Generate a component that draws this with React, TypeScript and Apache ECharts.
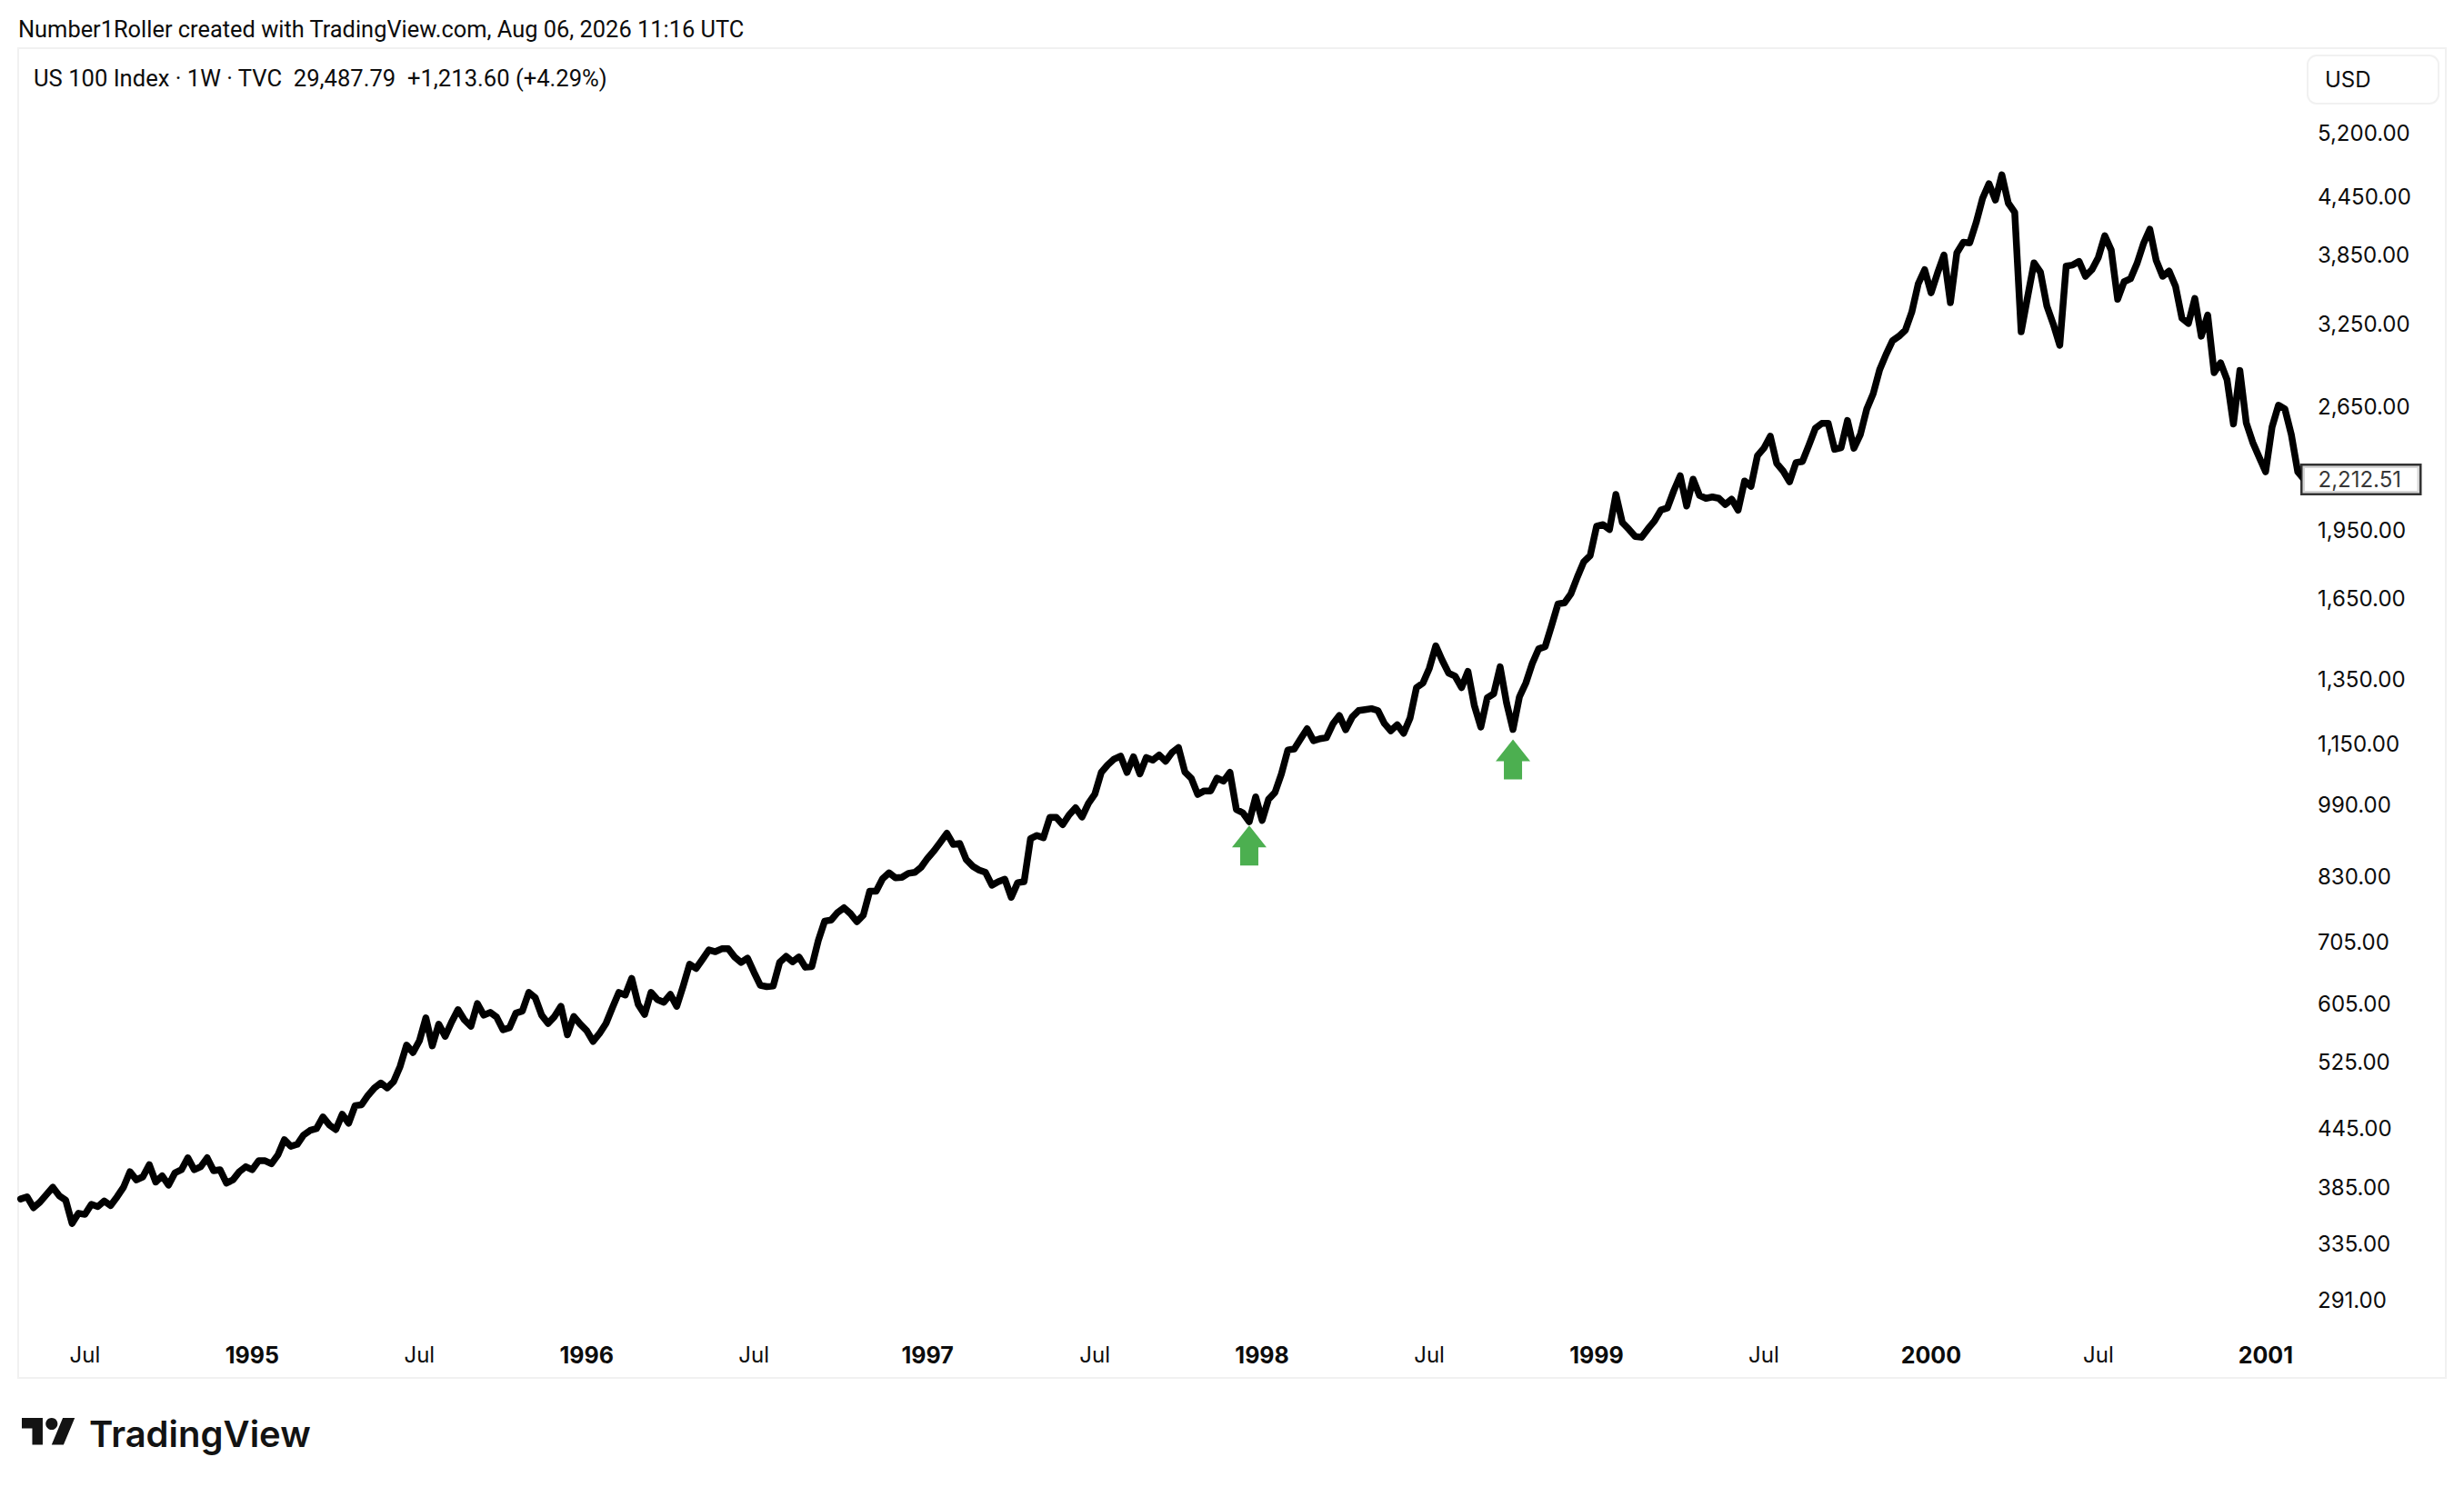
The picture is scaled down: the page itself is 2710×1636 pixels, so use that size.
import React, { useEffect, useRef } from "react";
import * as echarts from "echarts";

const closes = [
  374, 376, 366, 371, 378, 385, 377, 373, 352, 361, 360, 369, 367, 372, 368, 376, 385, 400, 392,
  395, 407, 390, 396, 387, 399, 402, 414, 402, 405, 414, 401, 402, 389, 392, 400, 405, 402, 411, 411,
  408, 417, 433, 426, 428, 438, 443, 445, 458, 449, 444, 461, 451, 471, 472, 483, 492, 498, 492, 500,
  519, 547, 537, 553, 585, 546, 576, 559, 579, 597, 582, 573, 606, 589, 593, 586, 568, 571, 592, 595,
  623, 615, 589, 577, 587, 602, 561, 587, 576, 567, 552, 563, 577, 600, 623, 619, 645, 605, 590, 623,
  612, 608, 620, 602, 633, 668, 661, 676, 692, 689, 694, 694, 680, 671, 678, 655, 634, 632, 633, 671,
  681, 672, 680, 663, 664, 708, 743, 745, 759, 768, 757, 742, 754, 800, 800, 825, 837, 827, 828, 836,
  838, 849, 868, 884, 903, 923, 898, 900, 865, 851, 843, 838, 812, 819, 824, 788, 817, 819, 911, 918,
  913, 960, 960, 943, 966, 983, 961, 994, 1017, 1073, 1093, 1109, 1117, 1073, 1115, 1069, 1113, 1106, 1120, 1103,
  1127, 1141, 1074, 1057, 1016, 1025, 1025, 1058, 1050, 1073, 979, 971, 950, 1010, 953, 1004, 1021, 1069, 1134, 1137,
  1166, 1195, 1160, 1166, 1169, 1209, 1235, 1192, 1230, 1250, 1253, 1256, 1250, 1211, 1189, 1207, 1182, 1227, 1323, 1338,
  1388, 1467, 1415, 1371, 1361, 1323, 1377, 1265, 1200, 1290, 1303, 1393, 1274, 1193, 1293, 1338, 1404, 1456, 1464, 1542,
  1627, 1631, 1668, 1738, 1805, 1833, 1971, 1979, 1955, 2132, 1989, 1957, 1922, 1918, 1959, 1997, 2052, 2062, 2152, 2233,
  2072, 2214, 2127, 2112, 2119, 2112, 2080, 2107, 2051, 2204, 2175, 2346, 2390, 2462, 2302, 2259, 2200, 2307, 2313, 2408,
  2510, 2541, 2542, 2384, 2393, 2560, 2390, 2472, 2633, 2735, 2902, 3014, 3117, 3152, 3200, 3346, 3588, 3715, 3509, 3685,
  3852, 3424, 3873, 3975, 3970, 4173, 4431, 4595, 4413, 4697, 4379, 4281, 3187, 3473, 3778, 3692, 3396, 3247, 3082, 3749,
  3758, 3792, 3655, 3715, 3830, 4040, 3900, 3453, 3606, 3633, 3771, 3960, 4106, 3800, 3655, 3702, 3566, 3295, 3253, 3461,
  3152, 3321, 2881, 2952, 2832, 2537, 2896, 2544, 2425, 2338, 2255, 2518, 2658, 2633, 2472, 2255, 2212.51,
];

const timeTickWeeks = [11, 37, 63, 89, 115, 142, 168, 194, 220, 246, 272, 298, 324, 350];
const timeTickLabels = ["Jul", "1995", "Jul", "1996", "Jul", "1997", "Jul", "1998", "Jul", "1999", "Jul", "2000", "Jul", "2001"];
const priceTicks = [5200, 4450, 3850, 3250, 2650, 1950, 1650, 1350, 1150, 990, 830, 705, 605, 525, 445, 385, 335, 291];
const arrowWeeks = [192, 233];
const arrowPrices = [941, 1164];
const lastPrice = 2212.51;
const headerLine = "Number1Roller created with TradingView.com, Aug 06, 2026 11:16 UTC";
const legendLine = "US 100 Index \u00b7 1W \u00b7 TVC  29,487.79  +1,213.60 (+4.29%)";

const money = (v: number) =>
  v.toLocaleString("en-US", { minimumFractionDigits: 2, maximumFractionDigits: 2 });

const X_MIN = 0.622;
const X_MAX = 354.835;
const INK = "#0c0c0c";
const FRAME = "#f1f1f1";
const UI_FONT = "Inter, 'Liberation Sans', sans-serif";
const HEAD_FONT = "Roboto, 'Liberation Sans', sans-serif";

echarts.graphic.registerShape(
  "tvLogo",
  echarts.graphic.extendPath("M14 22H7V11H0V4h14v18zM28 22h-8l7.5-18h8L28 22z", {}) as any
);

export default function App() {
  const ref = useRef<HTMLDivElement>(null);
  useEffect(() => {
    const chart = echarts.init(ref.current!, null, { renderer: "svg" });
    chart.setOption({
      animation: false,
      backgroundColor: "#ffffff",
      grid: { left: 20, top: 53, width: 2506, height: 1412, containLabel: false },
      xAxis: {
        type: "value",
        min: X_MIN,
        max: X_MAX,
        axisLine: { show: false },
        axisTick: { show: false },
        splitLine: { show: false },
        axisLabel: {
          customValues: timeTickWeeks,
          margin: 13,
          fontFamily: UI_FONT,
          fontSize: 24,
          color: INK,
          showMinLabel: true,
          showMaxLabel: true,
          formatter: (v: number) => {
            const t = timeTickLabels[timeTickWeeks.indexOf(Math.round(v))];
            return t === "Jul" ? t : `{y|${t}}`;
          },
          rich: { y: { fontFamily: UI_FONT, fontSize: 25, fontWeight: "bold", color: INK } },
        },
      },
      yAxis: {
        type: "log",
        position: "right",
        min: 269.5,
        max: 6422,
        logBase: 10,
        axisLine: { show: false },
        axisTick: { show: false },
        splitLine: { show: false },
        minorTick: { show: false },
        axisLabel: {
          customValues: priceTicks,
          margin: 23,
          align: "left",
          fontFamily: UI_FONT,
          fontSize: 24,
          color: INK,
          showMinLabel: true,
          showMaxLabel: true,
          formatter: (v: number) => money(v),
        },
      },
      series: [
        {
          type: "line",
          data: closes.map((c, i) => [i + 1, c]),
          showSymbol: false,
          symbol: "none",
          silent: true,
          clip: true,
          lineStyle: { color: "#000000", width: 7.5, join: "round", cap: "round" },
          z: 3,
        },
        {
          type: "scatter",
          data: arrowWeeks.map((w, i) => [w, arrowPrices[i]]),
          silent: true,
          symbol: "path://M19 0L38 24L29 24L29 44L9 44L9 24L0 24Z",
          symbolSize: [38, 44],
          symbolOffset: [0, 22],
          itemStyle: { color: "#4caf50", opacity: 1 },
          z: 4,
        },
        {
          type: "scatter",
          data: [[X_MAX, lastPrice]],
          silent: true,
          clip: false,
          symbolSize: 1,
          itemStyle: { color: "rgba(0,0,0,0)" },
          z: 20,
          label: {
            show: true,
            position: "right",
            distance: 6,
            formatter: () => money(lastPrice),
            fontFamily: UI_FONT,
            fontSize: 24,
            color: "#000000",
            backgroundColor: "#ffffff",
            borderColor: "#000000",
            borderWidth: 2.5,
            textBorderWidth: 0,
            padding: [3, 20, 3, 17],
          },
        },
      ],
      graphic: [
        {
          type: "rect",
          silent: true,
          z: -1,
          shape: { x: 20, y: 53, width: 2670, height: 1463 },
          style: { fill: "none", stroke: FRAME, lineWidth: 2 },
        },
        {
          type: "rect",
          silent: true,
          shape: { x: 2538, y: 61, width: 144, height: 53, r: 10 },
          style: { fill: "#ffffff", stroke: FRAME, lineWidth: 2 },
        },
        {
          type: "text",
          silent: true,
          style: { text: "USD", x: 2557, y: 87, font: `24px ${UI_FONT}`, fill: INK, verticalAlign: "middle" },
        },
        {
          type: "text",
          silent: true,
          style: { text: headerLine, x: 20, y: 32, font: `25.4px ${HEAD_FONT}`, fill: INK, verticalAlign: "middle" },
        },
        {
          type: "text",
          silent: true,
          style: { text: legendLine, x: 37, y: 86, font: `25.6px ${HEAD_FONT}`, fill: INK, verticalAlign: "middle" },
        },
        {
          type: "tvLogo",
          silent: true,
          x: 24,
          y: 1553.4,
          scaleX: 1.64,
          scaleY: 1.64,
          style: { fill: "#131313" },
        },
        {
          type: "circle",
          silent: true,
          shape: { cx: 56.8, cy: 1566.5, r: 6.56 },
          style: { fill: "#131313" },
        },
        {
          type: "text",
          silent: true,
          style: { text: "TradingView", x: 98, y: 1577, font: `600 40px ${UI_FONT}`, fill: "#131313", verticalAlign: "middle" },
        },
      ],
    });
    return () => chart.dispose();
  }, []);
  return (
    <div
      ref={ref}
      style={{ position: "absolute", left: 0, top: 0, width: 2710, height: 1636, background: "#fff" }}
    />
  );
}
